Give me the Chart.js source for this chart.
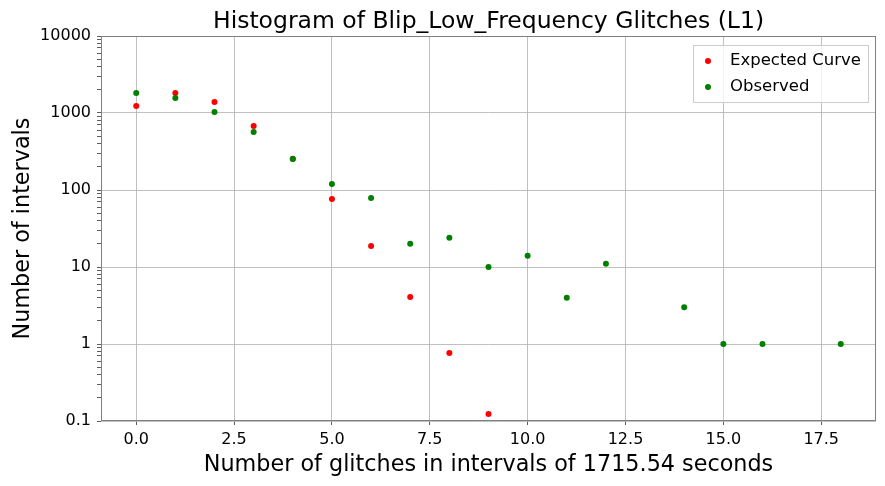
<!DOCTYPE html>
<html>
  <head>
    <title>Blip Low Frequency Histogram</title>
    <script src="https://cdn.jsdelivr.net/npm/chart.js"></script>
    <style>
      body { margin: 0; background: #fff; }
    </style>
  </head>
  <body>
    <canvas id="histChart" width="885" height="486"></canvas>

    <script>
        // values
        const expectedX = [0, 1, 2, 3, 4, 5, 6, 7, 8, 9];
        const expectedCounts = [1233, 1819, 1390, 678, 255, 76.4, 18.7, 4.08, 0.764, 0.123];
        const observedX = [0, 1, 2, 3, 4, 5, 6, 7, 8, 9, 10, 11, 12, 14, 15, 16, 18];
        const observedCounts = [1819, 1566, 1030, 567, 253, 120, 79, 20, 24, 10, 14, 4, 11, 3, 1, 1, 1];
        const xTicks = [0, 2.5, 5, 7.5, 10, 12.5, 15, 17.5];
        const chartTitle = 'Histogram of Blip_Low_Frequency Glitches (L1)';

        const font = "'DejaVu Sans', sans-serif";

        function pts(xs, ys) {
          return xs.map((x, i) => ({ x: x, y: ys[i] }));
        }

        // all 1..9 x 10^n ticks, labels only on the decades
        function logTicks() {
          const t = [];
          for (let e = -1; e < 4; e++) {
            for (let m = 1; m < 10; m++) {
              t.push({ value: +(m * Math.pow(10, e)).toPrecision(3), major: m === 1 });
            }
          }
          t.push({ value: 10000, major: true });
          return t;
        }

        // axes frame, title centred over the axes, and the legend box
        const framePlugin = {
          id: 'frame',
          afterDatasetsDraw(chart) {
            const { ctx, chartArea: a } = chart;
            ctx.save();
            ctx.strokeStyle = '#808080';
            ctx.lineWidth = 1;
            ctx.strokeRect(a.left + 0.5, a.top + 0.5, a.right - a.left - 1, a.bottom - a.top - 1);

            ctx.fillStyle = '#000';
            ctx.font = '23.5px ' + font;
            ctx.textAlign = 'center';
            ctx.textBaseline = 'alphabetic';
            ctx.fillText(chartTitle, (a.left + a.right) / 2, a.top - 8);

            const bx = a.right - 183, by = a.top + 9, bw = 175, bh = 57;
            ctx.fillStyle = 'rgba(255,255,255,0.8)';
            ctx.strokeStyle = '#cccccc';
            ctx.fillRect(bx, by, bw, bh);
            ctx.strokeRect(bx + 0.5, by + 0.5, bw, bh);
            ctx.font = '16.5px ' + font;
            ctx.textAlign = 'left';
            ctx.textBaseline = 'middle';
            chart.data.datasets.forEach((d, i) => {
              const cy = by + 16 + i * 26;
              ctx.fillStyle = d.backgroundColor;
              ctx.beginPath();
              ctx.arc(bx + 15, cy, 3, 0, Math.PI * 2);
              ctx.fill();
              ctx.fillStyle = '#000';
              ctx.fillText(d.label, bx + 37, cy);
            });
            ctx.restore();
          }
        };

        const ctx = document.getElementById('histChart').getContext('2d');
        new Chart(ctx, {
          type: 'scatter',
          data: {
            datasets: [{
              label: 'Expected Curve',
              data: pts(expectedX, expectedCounts),
              backgroundColor: '#ff0000',
              borderColor: '#ff0000',
              pointRadius: 3,
              borderWidth: 0,
              order: 1
            },
            {
              label: 'Observed',
              data: pts(observedX, observedCounts),
              backgroundColor: '#008000',
              borderColor: '#008000',
              pointRadius: 3,
              borderWidth: 0,
              order: 0
            }]
          },
          options: {
            responsive: false,
            animation: false,
            layout: { padding: { left: 0, right: 9, top: 36, bottom: 0 } },
            plugins: {
              legend: { display: false },
              tooltip: { enabled: false },
              title: { display: false }
            },
            scales: {
              x: {
                type: 'linear',
                min: -0.9,
                max: 18.9,
                afterBuildTicks: s => { s.ticks = xTicks.map(v => ({ value: v })); },
                afterFit: s => { s.height = 65; },
                ticks: {
                  color: '#000',
                  padding: 5,
                  font: { family: font, size: 16 },
                  callback: v => v.toFixed(1)
                },
                grid: { color: '#b0b0b0', lineWidth: 0.8, tickColor: '#333', tickLength: 4 },
                border: { display: false },
                title: {
                  display: true,
                  text: 'Number of glitches in intervals of 1715.54 seconds',
                  color: '#000',
                  font: { family: font, size: 22.3 },
                  padding: { top: 0, bottom: 7 }
                }
              },
              y: {
                type: 'logarithmic',
                min: 0.1,
                max: 10000,
                afterBuildTicks: s => { s.ticks = logTicks(); },
                afterFit: s => { s.width = 101; },
                ticks: {
                  color: '#000',
                  padding: 6,
                  autoSkip: false,
                  font: { family: font, size: 16 },
                  callback: (v, i, t) => t[i].major ? String(v) : ''
                },
                grid: {
                  color: c => (c.tick && c.tick.major) ? '#b0b0b0' : 'rgba(0,0,0,0)',
                  lineWidth: 0.8,
                  tickColor: '#333',
                  tickLength: 4
                },
                border: { display: false },
                title: {
                  display: true,
                  text: 'Number of intervals',
                  color: '#000',
                  font: { family: font, size: 22.3 },
                  padding: { top: 10, bottom: 0 }
                }
              }
            }
          },
          plugins: [framePlugin]
        });
    </script>
  </body>
</html>
